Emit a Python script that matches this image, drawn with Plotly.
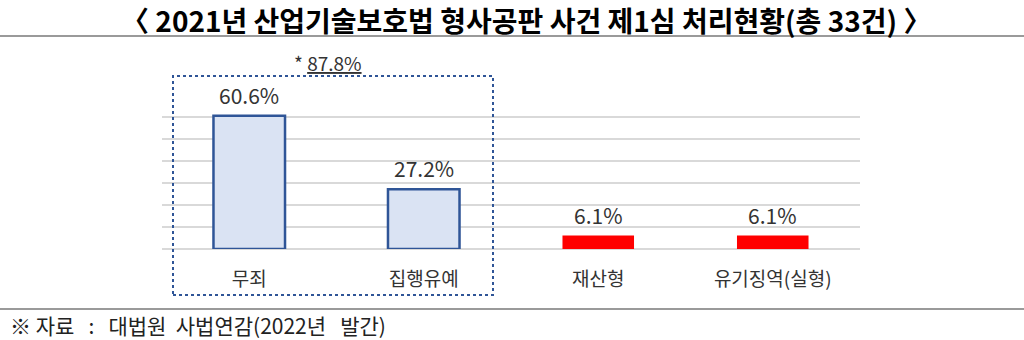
import plotly.graph_objects as go

categories = ["무죄", "집행유예", "재산형", "유기징역(실형)"]
values = [60.6, 27.2, 6.1, 6.1]
fill_colors = ["#dae3f3", "#dae3f3", "#ff0000", "#ff0000"]
line_colors = ["#2f5597", "#2f5597", "#ff0000", "#ff0000"]
line_widths = [2.5, 2.5, 0, 0]
value_labels = [f"{v:.1f}%" for v in values]
group_total = values[0] + values[1]

title_text = "〈 2021년 산업기술보호법 형사공판 사건 제1심 처리현황(총 33건) 〉"
NB = "\u00a0"
source_text = f"※ 자료{NB*3}:{NB*3}대법원{NB*2}사법연감(2022년{NB*3}발간)"

W, H = 1024, 340
L, R, T, B = 162, 164, 95, 91
pw = W - L - R
ph = H - T - B


def px(x):
    return (x - L) / pw


def py(y):
    return (H - B - y) / ph


FONT = "Noto Sans CJK KR"

fig = go.Figure()
fig.add_trace(go.Bar(
    x=categories, y=values, width=0.41,
    marker=dict(color=fill_colors, line=dict(color=line_colors, width=line_widths)),
    hoverinfo="skip",
))

for c, v, t in zip(categories, values, value_labels):
    fig.add_annotation(x=c, y=v, xref="x", yref="y", text=t, showarrow=False,
                       yanchor="bottom", yshift=4,
                       font=dict(family=FONT, size=21, color="#333333"))

# title
fig.add_annotation(x=px(526), y=py(20), xref="paper", yref="paper", text=f"<b>{title_text}</b>",
                   showarrow=False, xanchor="center", yanchor="middle",
                   font=dict(family=FONT, size=28, color="#000000"))
# group total
fig.add_annotation(x=px(328), y=py(62), xref="paper", yref="paper",
                   text=f"* <u>{group_total:.1f}%</u>", showarrow=False,
                   xanchor="center", yanchor="middle",
                   font=dict(family=FONT, size=19, color="#333333"))
# source
fig.add_annotation(x=px(8), y=py(325), xref="paper", yref="paper", text=source_text,
                   showarrow=False, xanchor="left", yanchor="middle",
                   font=dict(family=FONT, size=21, color="#222222"))

# dotted group box
fig.add_shape(type="rect", xref="paper", yref="paper",
              x0=px(173), x1=px(493), y0=py(295), y1=py(76),
              line=dict(color="#2f5597", width=2, dash="dot"), fillcolor="rgba(0,0,0,0)")
# separator lines
fig.add_shape(type="line", xref="paper", yref="paper", x0=px(0), x1=px(W), y0=py(36), y1=py(36),
              line=dict(color="#9a9a9a", width=2))
fig.add_shape(type="line", xref="paper", yref="paper", x0=px(0), x1=px(W), y0=py(309), y1=py(309),
              line=dict(color="#9a9a9a", width=2))

fig.update_layout(
    width=W, height=H,
    margin=dict(l=L, r=R, t=T, b=B, pad=0),
    paper_bgcolor="white", plot_bgcolor="white",
    showlegend=False,
    xaxis=dict(showline=False, ticks="", ticklabelstandoff=17,
               tickfont=dict(family=FONT, size=19, color="#333333")),
    yaxis=dict(range=[0, 70], dtick=10, showgrid=True, gridcolor="#d9d9d9", gridwidth=1.5,
               zeroline=True, zerolinecolor="#d9d9d9", zerolinewidth=1.5,
               showticklabels=False, showline=False, ticks=""),
)

fig.write_html("out.html")
